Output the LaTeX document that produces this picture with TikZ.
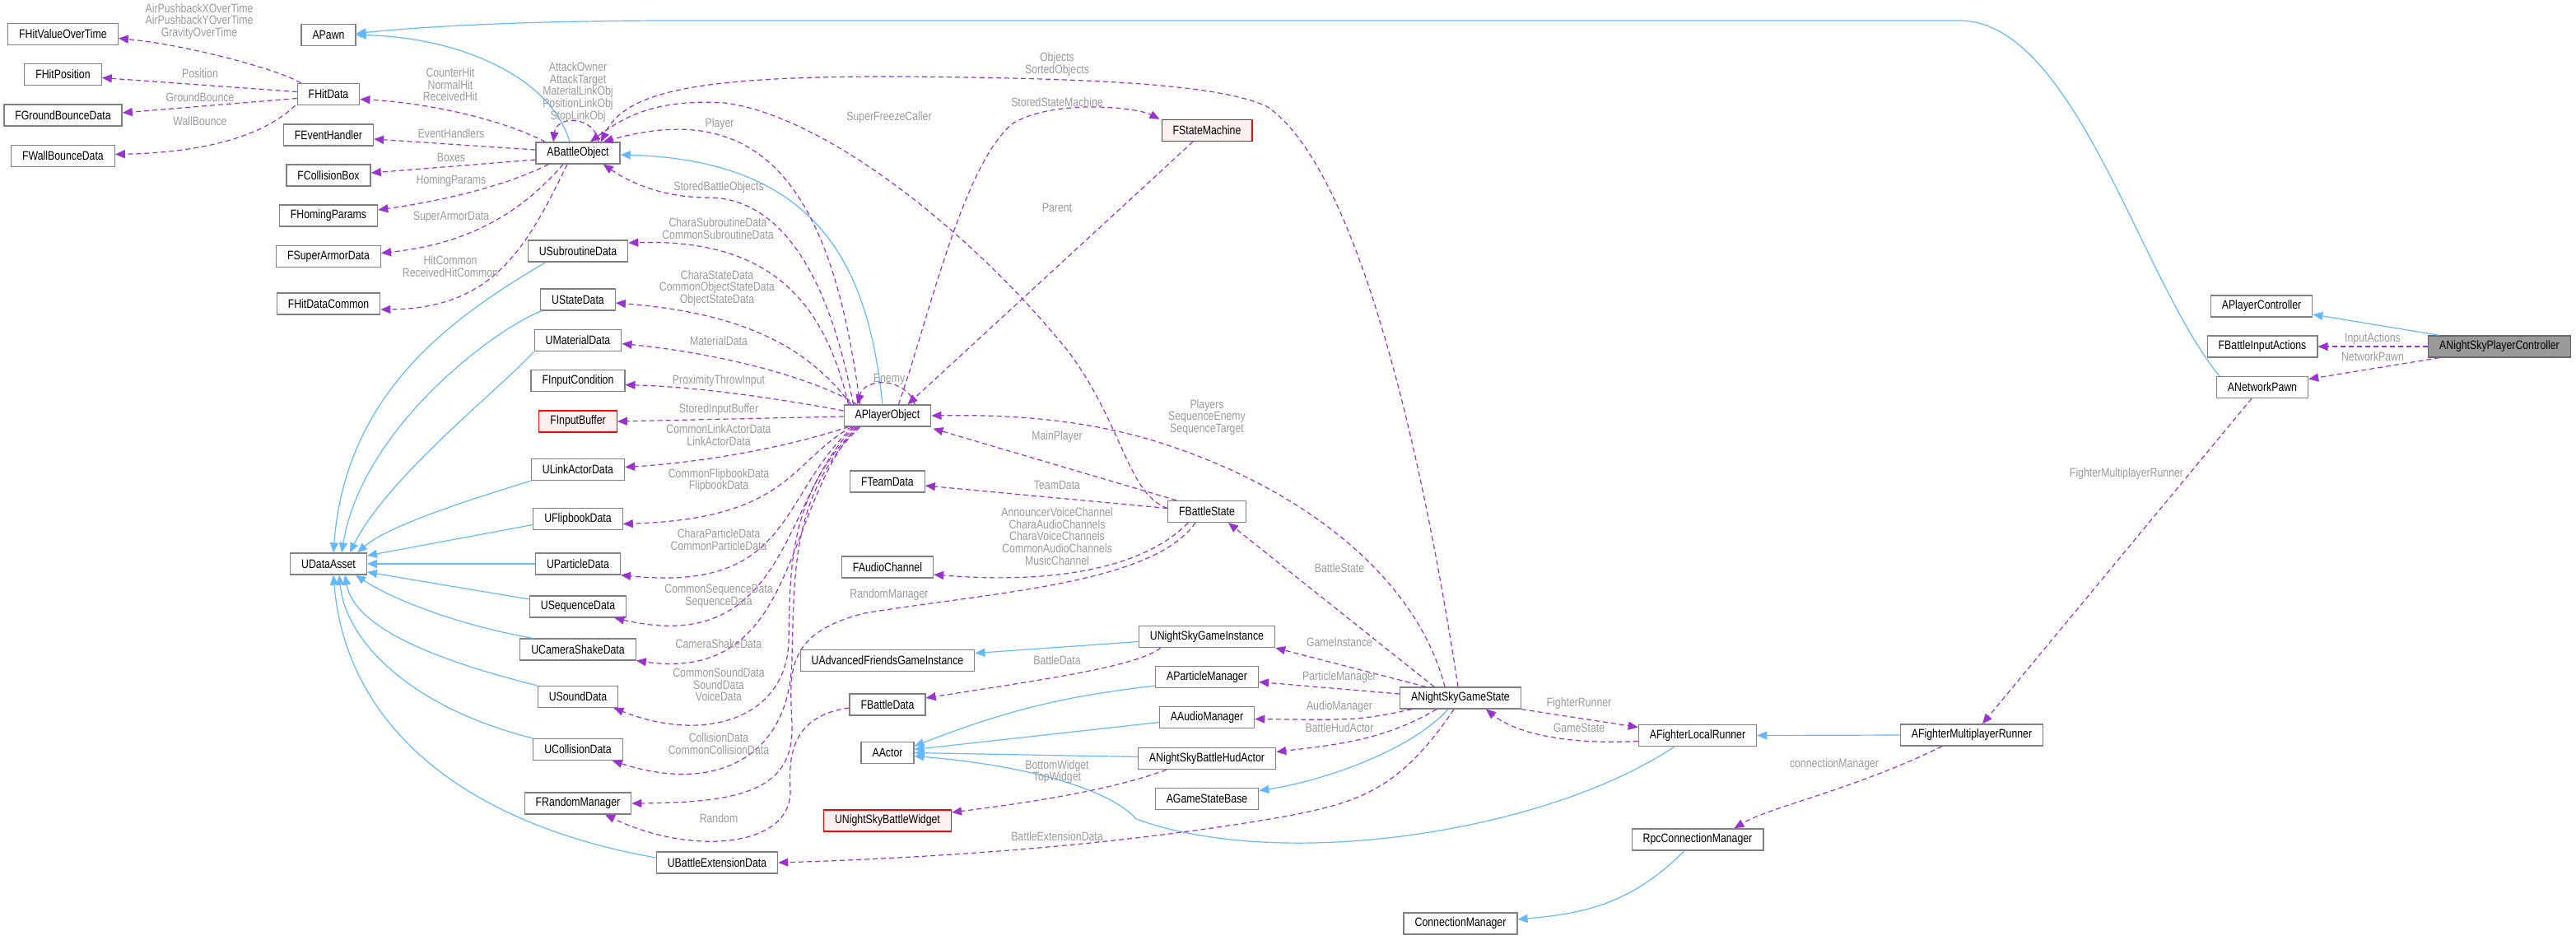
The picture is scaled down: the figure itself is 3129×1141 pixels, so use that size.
\documentclass[tikz,border=0pt]{standalone}
\usepackage{fontspec}
\setmainfont{Liberation Sans}[FakeStretch=0.82]
\usetikzlibrary{arrows.meta,calc}
\definecolor{inhblue}{HTML}{63B8FF}
\definecolor{deppurple}{HTML}{9A32CD}
\definecolor{lblgray}{HTML}{9A9A9A}
\definecolor{boxgray}{HTML}{808080}
\definecolor{hlgray}{HTML}{999999}
\definecolor{redfill}{HTML}{FFF0F0}
\tikzset{cls/.style={draw=boxgray,fill=white,line width=1.3pt,minimum height=26pt,inner xsep=13.5pt,inner ysep=0pt,font=\fontsize{15}{16}\selectfont},
clsred/.style={cls,draw=red,fill=redfill},clsmain/.style={cls,draw=black!60,fill=hlgray},
lbl/.style={text=lblgray,align=center,inner sep=0pt,font=\fontsize{15}{14.6}\selectfont},
inh/.style={draw=inhblue,line width=1.2pt,-{Triangle[length=12pt,width=10pt]}},
dep/.style={draw=deppurple,line width=1.2pt,dash pattern=on 6pt off 4pt,-{Triangle[length=12pt,width=10pt]}}}
\begin{document}
\begin{tikzpicture}[x=1pt,y=-1pt]
\useasboundingbox(0,0)rectangle(3129,1141);
\node[cls](FHitValueOverTime)at(76.5,41.5){FHitValueOverTime};\node[cls](FHitPosition)at(76.5,90.5){FHitPosition};
\node[cls](FGroundBounceData)at(76.5,140){FGroundBounceData};\node[cls](FWallBounceData)at(76.5,189.5){FWallBounceData};
\node[cls](APawn)at(399,42.5){APawn};\node[cls](FHitData)at(399,114.5){FHitData};\node[cls](FEventHandler)at(399,164){FEventHandler};
\node[cls](FCollisionBox)at(399,213){FCollisionBox};\node[cls](FHomingParams)at(399,262){FHomingParams};
\node[cls](FSuperArmorData)at(399,311.5){FSuperArmorData};\node[cls](FHitDataCommon)at(399,369){FHitDataCommon};\node[cls](UDataAsset)at(399,685){UDataAsset};
\node[cls](ABattleObject)at(702,186){ABattleObject};\node[cls](USubroutineData)at(702,305){USubroutineData};\node[cls](UStateData)at(702,364){UStateData};
\node[cls](UMaterialData)at(702,413.5){UMaterialData};\node[cls](FInputCondition)at(702,462.5){FInputCondition};\node[clsred](FInputBuffer)at(702,512){FInputBuffer};
\node[cls](ULinkActorData)at(702,570.5){ULinkActorData};\node[cls](UFlipbookData)at(702,630.5){UFlipbookData};\node[cls](UParticleData)at(702,685){UParticleData};
\node[cls](USequenceData)at(702,737){USequenceData};\node[cls](UCameraShakeData)at(702,789){UCameraShakeData};\node[cls](USoundData)at(702,846.5){USoundData};
\node[cls](UCollisionData)at(702,910.5){UCollisionData};\node[cls](FRandomManager)at(702,976){FRandomManager};\node[cls](UBattleExtensionData)at(871,1048){UBattleExtensionData};
\node[cls](APlayerObject)at(1078,505){APlayerObject};\node[cls](FTeamData)at(1078,585){FTeamData};\node[cls](FAudioChannel)at(1078,689){FAudioChannel};
\node[cls](UAdvancedFriendsGameInstance)at(1078,802.5){UAdvancedFriendsGameInstance};\node[cls](FBattleData)at(1078,856){FBattleData};
\node[cls](AActor)at(1078,914.5){AActor};\node[clsred](UNightSkyBattleWidget)at(1078,997){UNightSkyBattleWidget};
\node[clsred](FStateMachine)at(1466,158.5){FStateMachine};\node[cls](FBattleState)at(1466,621.5){FBattleState};
\node[cls](UNightSkyGameInstance)at(1466,773.5){UNightSkyGameInstance};\node[cls](AParticleManager)at(1466,822.5){AParticleManager};
\node[cls](AAudioManager)at(1466,871.5){AAudioManager};\node[cls](ANightSkyBattleHudActor)at(1466,921.5){ANightSkyBattleHudActor};\node[cls](AGameStateBase)at(1466,970.5){AGameStateBase};
\node[cls](ANightSkyGameState)at(1774,848){ANightSkyGameState};\node[cls](ConnectionManager)at(1774,1122){ConnectionManager};
\node[cls](AFighterLocalRunner)at(2062,893.5){AFighterLocalRunner};\node[cls](RpcConnectionManager)at(2062,1020){RpcConnectionManager};
\node[cls](AFighterMultiplayerRunner)at(2395,893){AFighterMultiplayerRunner};
\node[cls](APlayerController)at(2747,372){APlayerController};\node[cls](FBattleInputActions)at(2748,421){FBattleInputActions};\node[cls](ANetworkPawn)at(2748,470.5){ANetworkPawn};
\node[clsmain](ANightSkyPlayerController)at(3036,421){ANightSkyPlayerController};
\draw[inh]($(ABattleObject.north)-(10,0)$)..controls(670,95)and(560,45)..(APawn.east);
\draw[inh]($(ANetworkPawn.north west)+(4,0)$)..controls(2600,340)and(2520,25)..(2380,25)--(800,25)..controls(600,26)and(500,34)..($(APawn.east)-(0,2)$);
\draw[inh]($(APlayerObject.north)-(6,0)$)..controls(1055,330)and(1000,195)..($(ABattleObject.east)+(0,2)$);
\draw[inh]($(USubroutineData.south west)+(22,0)$)..controls(560,380)and(420,470)..($(UDataAsset.north)+(6,0)$);
\draw[inh]($(UStateData.south west)+(2,0)$)..controls(600,400)and(440,520)..($(UDataAsset.north)+(16,0)$);
\draw[inh](UMaterialData.south west)..controls(610,470)and(470,580)..($(UDataAsset.north)+(26,0)$);
\draw[inh](ULinkActorData.south west)..controls(560,610)and(470,640)..($(UDataAsset.north east)-(12,0)$);
\draw[inh]($(UFlipbookData.west)+(0,7)$)--($(UDataAsset.east)-(0,10)$);\draw[inh](UParticleData.west)--(UDataAsset.east);
\draw[inh]($(USequenceData.west)-(0,9)$)--($(UDataAsset.east)+(0,10)$);
\draw[inh]($(UCameraShakeData.north west)+(16,0)$)..controls(560,760)and(480,730)..($(UDataAsset.south east)-(14,0)$);
\draw[inh](USoundData.north west)..controls(520,800)and(430,760)..($(UDataAsset.south)+(20,0)$);
\draw[inh](UCollisionData.north west)..controls(500,860)and(420,780)..($(UDataAsset.south)+(13,0)$);
\draw[inh]($(UBattleExtensionData.west)-(0,6)$)..controls(560,1000)and(420,880)..($(UDataAsset.south)+(6,0)$);
\draw[inh]($(UNightSkyGameInstance.west)+(0,6)$)--($(UAdvancedFriendsGameInstance.east)-(0,9)$);
\draw[inh]($(AParticleManager.south west)-(0,3)$)..controls(1300,845)and(1230,860)..($(AActor.east)-(0,8)$);
\draw[inh]($(AAudioManager.west)+(0,6)$)--($(AActor.east)-(0,4)$);\draw[inh]($(ANightSkyBattleHudActor.west)-(0,2)$)--(AActor.east);
\draw[inh]($(AFighterLocalRunner.south west)+(44,0)$)..controls(1880,1010)and(1560,1060)..(1380,995)..controls(1350,960)and(1250,930)..($(AActor.east)+(0,4)$);
\draw[inh]($(ANightSkyGameState.south)-(15,0)$)..controls(1710,915)and(1600,950)..($(AGameStateBase.east)-(0,10)$);
\draw[inh](AFighterMultiplayerRunner.west)--(AFighterLocalRunner.east);
\draw[inh]($(RpcConnectionManager.south)-(16,0)$)..controls(1980,1100)and(1920,1110)..($(ConnectionManager.east)-(0,5)$);
\draw[inh]($(ANightSkyPlayerController.north west)+(14,0)$)--($(APlayerController.east)+(0,10)$);
\draw[dep]($(FHitData.north west)+(5,0)$)..controls(340,85)and(230,55)..($(FHitValueOverTime.east)+(0,5)$);
\draw[dep]($(FHitData.west)-(0,3)$)--($(FHitPosition.east)+(0,4)$);\draw[dep]($(FHitData.west)+(0,5)$)--($(FGroundBounceData.east)-(0,3)$);
\draw[dep]($(FHitData.south west)-(2,0)$)..controls(320,165)and(250,185)..($(FWallBounceData.east)-(0,2)$);
\draw[dep]($(ABattleObject.north west)+(12,0)$)..controls(610,145)and(520,125)..($(FHitData.east)+(0,6)$);
\draw[dep]($(ABattleObject.west)-(0,4)$)--($(FEventHandler.east)+(0,5)$);\draw[dep]($(ABattleObject.west)+(0,8)$)--($(FCollisionBox.east)-(0,3)$);
\draw[dep]($(ABattleObject.south west)+(16,0)$)..controls(610,228)and(530,245)..($(FHomingParams.east)-(0,7)$);
\draw[dep]($(ABattleObject.south)-(18,0)$)..controls(640,250)and(580,295)..($(FSuperArmorData.east)-(0,4)$);
\draw[dep]($(ABattleObject.south)-(13,0)$)..controls(640,300)and(600,375)..($(FHitDataCommon.east)+(0,7)$);
\draw[dep]($(ABattleObject.north)+(25,0)$)..controls(722,140)and(676,140)..($(ABattleObject.north)-(30,0)$);
\draw[dep]($(APlayerObject.north west)+(20,0)$)..controls(1010,220)and(920,120)..($(ABattleObject.north east)-(21,0)$);
\draw[dep]($(APlayerObject.north west)+(12,0)$)..controls(1000,300)and(930,240)..(860,240)..controls(810,240)and(770,225)..($(ABattleObject.south east)-(21,0)$);
\draw[dep]($(APlayerObject.north west)+(6,0)$)..controls(1000,360)and(930,290)..($(USubroutineData.east)-(0,10)$);
\draw[dep]($(APlayerObject.north west)+(9,0)$)..controls(980,420)and(900,380)..($(UStateData.east)+(0,4)$);
\draw[dep]($(APlayerObject.north west)+(16,0)$)..controls(990,460)and(880,430)..($(UMaterialData.east)+(0,4)$);
\draw[dep]($(APlayerObject.west)-(0,6)$)..controls(950,485)and(850,470)..($(FInputCondition.east)+(0,5)$);
\draw[dep]($(APlayerObject.west)+(0,1)$)--(FInputBuffer.east);
\draw[dep]($(APlayerObject.south west)+(6,0)$)..controls(950,545)and(850,562)..($(ULinkActorData.east)-(0,3)$);
\draw[dep]($(APlayerObject.south west)+(10,0)$)..controls(960,560)and(960,630)..($(UFlipbookData.east)+(0,6)$);
\draw[dep]($(APlayerObject.south west)+(12,0)$)..controls(945,600)and(965,720)..(UParticleData.south east);
\draw[dep]($(APlayerObject.south west)+(14,0)$)..controls(950,600)and(960,800)..($(USequenceData.south east)-(15,0)$);
\draw[dep]($(APlayerObject.south west)+(16,0)$)..controls(950,620)and(970,830)..(UCameraShakeData.south east);
\draw[dep]($(APlayerObject.south west)+(18,0)$)..controls(955,600)and(960,700)..(958,780)..controls(955,870)and(860,905)..($(USoundData.south east)-(6,0)$);
\draw[dep]($(APlayerObject.south west)+(20,0)$)..controls(960,600)and(965,700)..(962,800)..controls(960,920)and(870,965)..($(UCollisionData.south east)-(13,0)$);
\draw[dep]($(APlayerObject.north east)-(20,0)$)..controls(1100,458)and(1050,458)..($(APlayerObject.north west)+(17,0)$);
\draw[dep]($(APlayerObject.north east)-(40,0)$)..controls(1130,380)and(1170,200)..(1230,150)..controls(1280,120)and(1380,130)..($(FStateMachine.north west)-(2,0)$);
\draw[dep]($(FStateMachine.south)-(17,0)$)--($(APlayerObject.north east)-(29,0)$);
\draw[dep]($(FBattleState.west)-(0,4)$)..controls(1370,600)and(1365,520)..(1300,430)..controls(1180,280)and(1000,140)..(880,125)..controls(800,120)and(760,140)..($(ABattleObject.north)+(15,0)$);
\draw[dep]($(ANightSkyGameState.north)-(3,0)$)..controls(1720,500)and(1640,200)..(1540,130)..controls(1480,100)and(1300,95)..(1100,93)..controls(850,92)and(760,110)..($(ABattleObject.north)+(28,0)$);
\draw[dep]($(ANightSkyGameState.north west)+(55,0)$)..controls(1720,700)and(1580,590)..(1400,535)..controls(1300,505)and(1200,504)..(APlayerObject.east);
\draw[dep]($(ANightSkyGameState.north west)+(42,0)$)--($(FBattleState.south)+(26,0)$);
\draw[dep]($(ANightSkyGameState.north west)+(32,0)$)--(UNightSkyGameInstance.south east);
\draw[dep]($(FBattleState.north west)+(11,0)$)--($(APlayerObject.south east)+(2,2)$);\draw[dep]($(FBattleState.west)-(0,4)$)--($(FTeamData.east)+(0,5)$);
\draw[dep]($(FBattleState.south)-(23,0)$)..controls(1390,690)and(1280,710)..($(FAudioChannel.east)+(0,9)$);
\draw[dep]($(FBattleState.south)-(14,0)$)..controls(1400,710)and(1200,720)..(1050,745)..controls(950,770)and(960,820)..(962,880)..controls(965,960)and(900,975)..(FRandomManager.east);
\draw[dep]($(FBattleData.west)+(0,4)$)..controls(960,870)and(958,920)..(960,960)..controls(962,1030)and(840,1040)..($(FRandomManager.south)+(33,0)$);
\draw[dep]($(UNightSkyGameInstance.south west)+(27,0)$)..controls(1380,810)and(1270,825)..($(FBattleData.east)-(0,8)$);
\draw[dep]($(ANightSkyGameState.west)-(0,5)$)--($(AParticleManager.east)+(0,6)$);
\draw[dep]($(ANightSkyGameState.south west)+(15,0)$)..controls(1650,875)..($(AAudioManager.east)+(0,2)$);
\draw[dep]($(ANightSkyGameState.south west)+(45,0)$)..controls(1680,900)and(1620,905)..($(ANightSkyBattleHudActor.east)-(0,8)$);
\draw[dep]($(ANightSkyGameState.south)-(8,0)$)..controls(1700,960)and(1650,975)..(1560,992)..controls(1400,1020)and(1200,1040)..(UBattleExtensionData.east);
\draw[dep]($(ANightSkyBattleHudActor.south west)+(35,0)$)..controls(1350,960)and(1250,975)..($(UNightSkyBattleWidget.east)-(0,10)$);
\draw[dep](ANightSkyGameState.south east)--($(AFighterLocalRunner.west)-(0,10)$);
\draw[dep]($(AFighterLocalRunner.west)+(0,7)$)..controls(1900,905)and(1840,890)..($(ANightSkyGameState.south)+(31,0)$);
\draw[dep](ANightSkyPlayerController.west)--(FBattleInputActions.east);
\draw[dep]($(ANightSkyPlayerController.south west)+(14,0)$)--($(ANetworkPawn.east)-(0,10)$);
\draw[dep]($(ANetworkPawn.south)-(13,0)$)--($(AFighterMultiplayerRunner.north)+(13,0)$);
\draw[dep]($(AFighterMultiplayerRunner.south)-(36,0)$)..controls(2250,960)and(2150,980)..($(RpcConnectionManager.north east)-(36,0)$);
\node[lbl](lAir)at(242,26){AirPushbackXOverTime\\AirPushbackYOverTime\\GravityOverTime};\node[lbl](lPos)at(243,89){Position};
\node[lbl](lGround)at(243,118){GroundBounce};\node[lbl](lWall)at(243,147){WallBounce};\node[lbl](lHit)at(547,103){CounterHit\\NormalHit\\ReceivedHit};
\node[lbl](lSelf)at(702,112){AttackOwner\\AttackTarget\\MaterialLinkObj\\PositionLinkObj\\StopLinkObj};\node[lbl](lEvent)at(548,162){EventHandlers};
\node[lbl](lBoxes)at(548,191){Boxes};\node[lbl](lHoming)at(548,220){HomingParams};\node[lbl](lArmor)at(548,264){SuperArmorData};
\node[lbl](lCommon)at(547,323.5){HitCommon\\ReceivedHitCommon};\node[lbl](lObjects)at(1284,78){Objects\\SortedObjects};
\node[lbl](lStoredSM)at(1284,124){StoredStateMachine};\node[lbl](lSFC)at(1080,143){SuperFreezeCaller};\node[lbl](lPlayer)at(874,151){Player};
\node[lbl](lStoredBO)at(873,228){StoredBattleObjects};\node[lbl](lSub)at(872,277.5){CharaSubroutineData\\CommonSubroutineData};
\node[lbl](lState)at(871,350){CharaStateData\\CommonObjectStateData\\ObjectStateData};\node[lbl](lParent)at(1284,252){Parent};
\node[lbl](lMat)at(873,414){MaterialData};\node[lbl](lProx)at(873,463){ProximityThrowInput};\node[lbl](lSIB)at(873,498){StoredInputBuffer};
\node[lbl](lLink)at(873,528.5){CommonLinkActorData\\LinkActorData};\node[lbl](lFlip)at(873,583.5){CommonFlipbookData\\FlipbookData};
\node[lbl](lPart)at(873,655.5){CharaParticleData\\CommonParticleData};\node[lbl](lSeq)at(873,724.5){CommonSequenceData\\SequenceData};
\node[lbl](lEnemy)at(1080,461){Enemy};\node[lbl](lMain)at(1284,531){MainPlayer};\node[lbl](lTeam)at(1284,589){TeamData};
\node[lbl](lAudio)at(1284,651.5){AnnouncerVoiceChannel\\CharaAudioChannels\\CharaVoiceChannels\\CommonAudioChannels\\MusicChannel};
\node[lbl](lRM)at(1080,723){RandomManager};\node[lbl](lCam)at(873,782){CameraShakeData};\node[lbl](lSound)at(873,832){CommonSoundData\\SoundData\\VoiceData};
\node[lbl](lColl)at(873,903.5){CollisionData\\CommonCollisionData};\node[lbl](lRandom)at(873,994){Random};\node[lbl](lBD)at(1284,802){BattleData};
\node[lbl](lWidget)at(1284,937.5){BottomWidget\\TopWidget};\node[lbl](lBED)at(1284,1016){BattleExtensionData};
\node[lbl](lPlayers)at(1466,507){Players\\SequenceEnemy\\SequenceTarget};\node[lbl](lBS)at(1627,690){BattleState};
\node[lbl](lGI)at(1627,780){GameInstance};\node[lbl](lPM)at(1627,823){ParticleManager};\node[lbl](lAM)at(1627,859){AudioManager};
\node[lbl](lBHA)at(1627,884){BattleHudActor};\node[lbl](lFR)at(1918,855){FighterRunner};\node[lbl](lGS)at(1918,884){GameState};
\node[lbl](lIA)at(2882,412){InputActions};\node[lbl](lNP)at(2882,433){NetworkPawn};\node[lbl](lFMR)at(2583,576){FighterMultiplayerRunner};
\node[lbl](lCM)at(2228,929){connectionManager};
\end{tikzpicture}
\end{document}
